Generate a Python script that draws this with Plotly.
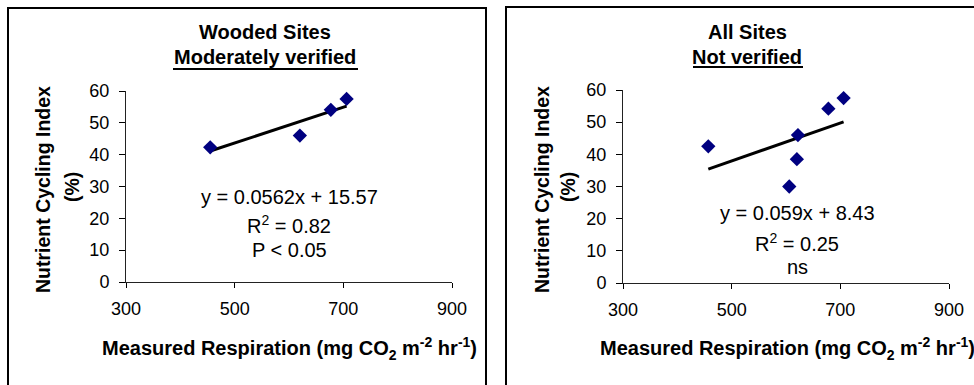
import plotly.graph_objects as go

W, H = 974, 385

# Measured respiration (mg CO2 m-2 hr-1) and nutrient cycling index (%)
resp_wooded = [455, 620, 677, 706]
nci_wooded = [42.3, 46.0, 54.1, 57.5]

resp_all = [457, 606, 620, 622, 678, 706]
nci_all = [42.5, 30.0, 38.5, 46.0, 54.2, 57.5]

# Linear fits as reported on each panel
fit_wooded = (0.0562, 15.57)
fit_all = (0.059, 8.43)

panel_titles = ["Wooded Sites", "All Sites"]
panel_subtitles = ["Moderately verified", "Not verified"]
stat_lines = [
    ["y = 0.0562x + 15.57", "R<sup>2</sup> = 0.82", "P < 0.05"],
    ["y = 0.059x + 8.43", "R<sup>2</sup> = 0.25", "ns"],
]

x_ticks = [300, 500, 700, 900]
y_ticks = [0, 10, 20, 30, 40, 50, 60]

FONT = "Arial, 'Liberation Sans', sans-serif"
NAVY = "#000080"


def px(x):
    return x / W


def py(y):
    return 1 - y / H


panels = [
    dict(xs=resp_wooded, ys=nci_wooded, fit=fit_wooded,
         xdom=[px(126), px(452)], ydom=[py(282), py(91)],
         frame=(8, 8, 486, 420), title_x=265, underline=(173, 358, 69),
         stats_x=289, stats_y=[197, 224, 250],
         ytitle_x=[43, 72], xtitle_x=289.5),
    dict(xs=resp_all, ys=nci_all, fit=fit_all,
         xdom=[px(623), px(949)], ydom=[py(283), py(90)],
         frame=(506, 7, 1010, 420), title_x=747, underline=(693, 803, 67),
         stats_x=797, stats_y=[213, 242, 267],
         ytitle_x=[542, 568], xtitle_x=787),
]

fig = go.Figure()
shapes = []
annotations = []
layout_axes = {}

for i, p in enumerate(panels):
    sfx = "" if i == 0 else str(i + 1)
    slope, icpt = p["fit"]
    x0, x1 = min(p["xs"]), max(p["xs"])

    fig.add_trace(go.Scatter(
        x=[x0, x1], y=[slope * x0 + icpt, slope * x1 + icpt],
        xaxis="x" + sfx, yaxis="y" + sfx,
        mode="lines", line=dict(color="black", width=3),
        showlegend=False, hoverinfo="skip"))
    fig.add_trace(go.Scatter(
        x=p["xs"], y=p["ys"], xaxis="x" + sfx, yaxis="y" + sfx,
        mode="markers", marker=dict(symbol="diamond", size=11, color=NAVY),
        showlegend=False))

    axis_common = dict(showgrid=False, zeroline=False, showline=True, automargin=False,
                       linecolor="#222222", linewidth=1, ticks="outside",
                       tickcolor="black", tickfont=dict(family=FONT, size=18, color="black"))
    layout_axes["xaxis" + sfx] = dict(range=[300, 900], tickvals=x_ticks, ticklen=5,
                                      domain=p["xdom"], ticklabelstandoff=5,
                                      anchor="y" + sfx, **axis_common)
    layout_axes["yaxis" + sfx] = dict(range=[0, 60], tickvals=y_ticks, ticklen=6,
                                      domain=p["ydom"], ticklabelstandoff=6,
                                      anchor="x" + sfx, **axis_common)

    fx0, fy0, fx1, fy1 = p["frame"]
    shapes.append(dict(type="rect", xref="paper", yref="paper",
                       x0=px(fx0), x1=px(fx1), y0=py(fy1), y1=py(fy0),
                       line=dict(color="black", width=2), fillcolor="rgba(0,0,0,0)"))

    # underline beneath the subtitle
    ux0, ux1, uy = p["underline"]
    shapes.append(dict(type="line", xref="paper", yref="paper",
                       x0=px(ux0), x1=px(ux1), y0=py(uy), y1=py(uy),
                       line=dict(color="black", width=2)))

    annotations.append(dict(text="<b>%s</b>" % panel_titles[i], x=px(p["title_x"]), y=py(32),
                            font=dict(family=FONT, size=20, color="black")))
    annotations.append(dict(text="<b>%s</b>" % panel_subtitles[i], x=px(p["title_x"]), y=py(57),
                            font=dict(family=FONT, size=20, color="black")))

    for line, yy in zip(stat_lines[i], p["stats_y"]):
        annotations.append(dict(text=line, x=px(p["stats_x"]), y=py(yy),
                                font=dict(family=FONT, size=20, color="black")))

    annotations.append(dict(text="<b>Nutrient Cycling Index</b>", x=px(p["ytitle_x"][0]), y=py(190),
                            textangle=-90, font=dict(family=FONT, size=19.5, color="black")))
    annotations.append(dict(text="<b>(%)</b>", x=px(p["ytitle_x"][1]), y=py(187),
                            textangle=-90, font=dict(family=FONT, size=19.5, color="black")))
    annotations.append(dict(
        text="<b>Measured Respiration (mg CO<sub>2</sub> m<sup>-2</sup> hr<sup>-1</sup>)</b>",
        x=px(p["xtitle_x"]), y=py(348), font=dict(family=FONT, size=20, color="black")))

for a in annotations:
    a.update(xref="paper", yref="paper", showarrow=False, xanchor="center", yanchor="middle")

fig.update_layout(
    template="none",
    width=W, height=H, margin=dict(l=0, r=0, t=0, b=0, pad=0, autoexpand=False),
    paper_bgcolor="white", plot_bgcolor="white",
    shapes=shapes, annotations=annotations,
    font=dict(family=FONT, color="black"),
    **layout_axes,
)

fig.write_html("out.html")
